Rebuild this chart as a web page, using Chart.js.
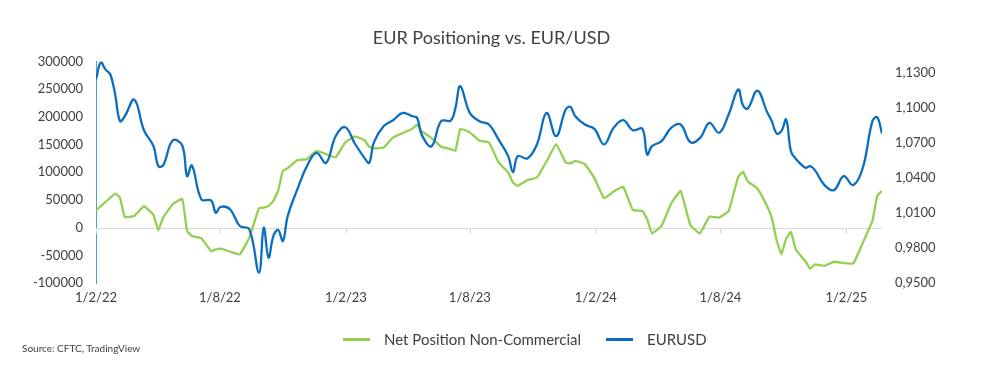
<!DOCTYPE html>
<html>
<head>
<meta charset="utf-8">
<title>EUR Positioning vs. EUR/USD</title>
<script src="https://cdn.jsdelivr.net/npm/chart.js@4.4.1/dist/chart.umd.min.js"></script>
<style>
  html, body { margin: 0; padding: 0; background: #fff; }
  #wrap { position: relative; width: 983px; height: 371px; font-family: Lato, "Open Sans", sans-serif; color: #404040; }
  #legend { position: absolute; left: 343px; top: 330px; display: flex; align-items: center; font-size: 15px; line-height: 18px; }
  .legend-item { display: flex; align-items: center; margin-right: 25px; }
  .legend-line { display: inline-block; width: 27px; height: 3px; margin-right: 14px; }
  #source { position: absolute; left: 22px; top: 342px; font-size: 10px; line-height: 13px; }
</style>
</head>
<body>
<div id="wrap">
  <canvas id="chart" width="983" height="371"></canvas>
  <div id="legend"></div>
  <div id="source">Source: CFTC, TradingView</div>
</div>
<script>
(function () {
  "use strict";

  // weeks since 1 Feb 2022
  const WEEKS = [0, 1, 2, 3, 4, 5, 6, 8, 10, 12, 13, 14, 16, 18, 19, 20, 22, 24, 25, 26, 28, 30, 32, 34, 35, 36, 37, 38, 39, 40,
    42, 44, 46, 48, 50, 52, 54, 56, 57, 58, 60, 62, 64, 66, 67, 68, 70, 72, 74, 75, 76, 78, 80, 82, 84, 86, 87, 88, 90, 92,
    94, 96, 98, 99, 100, 102, 104, 106, 108, 110, 112, 114, 115, 116, 118, 120, 122, 124, 126, 128, 130, 132, 134, 135, 136, 138, 140, 141, 142, 143,
    144, 145, 146, 148, 149, 150, 152, 154, 156, 158, 160, 162, 163, 164];

  const NET_POSITION = [31000, 39000, 46500, 54400, 61600, 54000, 19300, 21100, 38700, 23000, -4800, 18100, 42300, 51900, -6000, -15100, -19300, -42300, -39300, -38100,
    -43500, -48300, -18100, 35000, 36200, 39300, 48300, 66400, 102700, 107500,
    122000, 123800, 138900, 132900, 126800, 154000, 164900, 158200, 146200, 143100, 145000, 163100, 170900, 178800, 186000, 174000, 161900, 146200, 141900, 138900,
    178200, 172100, 157000, 154000, 117800, 99700, 81500, 75500, 85800, 90600,
    119600, 151000, 117800, 116000, 120800, 114800, 89400, 53200, 65200, 73700, 32000, 30200, 15100, -10300, 3000, 43500, 66400, 4800, -10300, 19900,
    18100, 30200, 91800, 100900, 83400, 70700, 39300, 18100, -22300, -48300,
    -19900, -7900, -39300, -60400, -74300, -66400, -68900, -61600, -64000, -64600, -27200, 12100, 57400, 66400];

  const EURUSD = [1.1246, 1.1394, 1.1331, 1.1289, 1.1117, 1.0889, 1.0931, 1.1074, 1.0811, 1.0674, 1.0503, 1.0509, 1.0723, 1.0680, 1.0417, 1.0509, 1.0217, 1.0209, 1.0103, 1.0154,
    1.0131, 0.9989, 0.9960, 0.9589, 0.9974, 0.9717, 0.9903, 0.9954, 0.9860, 1.0074,
    1.0303, 1.0503, 1.0617, 1.0531, 1.0760, 1.0837, 1.0697, 1.0574, 1.0531, 1.0709, 1.0846, 1.0897, 1.0960, 1.0931, 1.0917, 1.0769, 1.0674, 1.0889, 1.0894, 1.1003,
    1.1189, 1.0960, 1.0889, 1.0860, 1.0731, 1.0589, 1.0451, 1.0589, 1.0569, 1.0689,
    1.0960, 1.0760, 1.0989, 1.1011, 1.0931, 1.0860, 1.0823, 1.0689, 1.0831, 1.0897, 1.0811, 1.0823, 1.0603, 1.0674, 1.0717, 1.0831, 1.0860, 1.0709, 1.0743, 1.0874,
    1.0789, 1.0946, 1.1160, 1.1023, 1.0997, 1.1151, 1.0969, 1.0889, 1.0783, 1.0803,
    1.0903, 1.0631, 1.0566, 1.0489, 1.0503, 1.0469, 1.0340, 1.0297, 1.0417, 1.0340, 1.0489, 1.0889, 1.0923, 1.0783];

  const START_DATE = "2022-02-01";
  const TICK_DATES = ["2022-02-01", "2022-08-01", "2023-02-01", "2023-08-01", "2024-02-01", "2024-08-01", "2025-02-01"];
  const TICK_LABELS = ["1/2/22", "1/8/22", "1/2/23", "1/8/23", "1/2/24", "1/8/24", "1/2/25"];
  const LEFT_TICKS = [-100000, -50000, 0, 50000, 100000, 150000, 200000, 250000, 300000];
  const RIGHT_TICKS = [0.95, 0.98, 1.01, 1.04, 1.07, 1.10, 1.13];

  const GREEN = "#92d050";
  const BLUE = "#0b6ebf";
  const TEXT = "#404040";
  const FONT = "Lato, 'Open Sans', sans-serif";

  function dayOf(str) {
    return Math.round((Date.parse(str) - Date.parse(START_DATE)) / 86400000);
  }

  const tickDays = TICK_DATES.map(dayOf);
  const lastDay = WEEKS[WEEKS.length - 1] * 7;

  function points(values) {
    return WEEKS.map(function (w, i) { return { x: w * 7, y: values[i] }; });
  }

  // zero line + small ticks where the x labels sit
  const zeroLine = {
    id: "zeroLine",
    beforeDatasetsDraw: function (chart) {
      const ctx = chart.ctx, area = chart.chartArea;
      const y0 = Math.round(chart.scales.y.getPixelForValue(0)) + 0.5;
      ctx.save();
      ctx.strokeStyle = "#d9d9d9";
      ctx.lineWidth = 1.2;
      ctx.beginPath();
      ctx.moveTo(area.left, y0);
      ctx.lineTo(area.right, y0);
      chart.scales.x.ticks.forEach(function (t) {
        const px = Math.round(chart.scales.x.getPixelForValue(t.value)) + 0.5;
        ctx.moveTo(px, y0);
        ctx.lineTo(px, y0 + 5);
      });
      ctx.stroke();
      ctx.restore();
    }
  };

  const chart = new Chart(document.getElementById("chart"), {
    type: "line",
    data: {
      datasets: [{
        label: "Net Position Non-Commercial",
        data: points(NET_POSITION),
        yAxisID: "y",
        borderColor: GREEN,
        borderWidth: 2.3,
        pointRadius: 0,
        tension: 0.1,
        order: 1,
      }, {
        label: "EURUSD",
        data: points(EURUSD),
        yAxisID: "y1",
        borderColor: BLUE,
        borderWidth: 2.3,
        pointRadius: 0,
        tension: 0.4,
        order: 0,
      }],
    },
    options: {
      responsive: false,
      animation: false,
      layout: { padding: 0 },
      plugins: {
        legend: { display: false },
        tooltip: { enabled: false },
        title: {
          display: true,
          text: "EUR Positioning vs. EUR/USD",
          color: TEXT,
          font: { family: FONT, size: 18, weight: "normal" },
          padding: { top: 27, bottom: 13 },
        },
      },
      scales: {
        x: {
          type: "linear",
          min: 0,
          max: lastDay,
          afterBuildTicks: function (s) { s.ticks = tickDays.map(function (v) { return { value: v }; }); },
          afterFit: function (s) { s.height = 88; },
          ticks: {
            autoSkip: false,
            maxRotation: 0,
            padding: 7,
            color: TEXT,
            font: { family: FONT, size: 13 },
            callback: function (v, i) { return TICK_LABELS[i]; },
          },
          grid: { display: false, drawTicks: false },
          border: { display: false },
        },
        y: {
          position: "left",
          min: -100000,
          max: 300000,
          afterBuildTicks: function (s) { s.ticks = LEFT_TICKS.map(function (v) { return { value: v }; }); },
          afterFit: function (s) { s.width = 96; },
          ticks: {
            padding: 13,
            color: TEXT,
            font: { family: FONT, size: 13 },
            callback: function (v) { return String(v); },
          },
          grid: { display: false, drawTicks: false },
          border: { display: true, color: "#41a7c9", width: 1 },
        },
        y1: {
          position: "right",
          min: 0.95,
          max: 1.14,
          afterBuildTicks: function (s) { s.ticks = RIGHT_TICKS.map(function (v) { return { value: v }; }); },
          afterFit: function (s) { s.width = 101; },
          ticks: {
            padding: 13,
            color: TEXT,
            font: { family: FONT, size: 13 },
            callback: function (v) { return v.toFixed(4).replace(".", ","); },
          },
          grid: { display: false, drawTicks: false },
          border: { display: false },
        },
      },
    },
    plugins: [zeroLine],
  });

  // html legend from the datasets
  document.getElementById("legend").innerHTML = chart.data.datasets.map(function (ds) {
    return '<div class="legend-item"><span class="legend-line" style="background:' + ds.borderColor + '"></span>' + ds.label + '</div>';
  }).join("");
})();
</script>
</body>
</html>
